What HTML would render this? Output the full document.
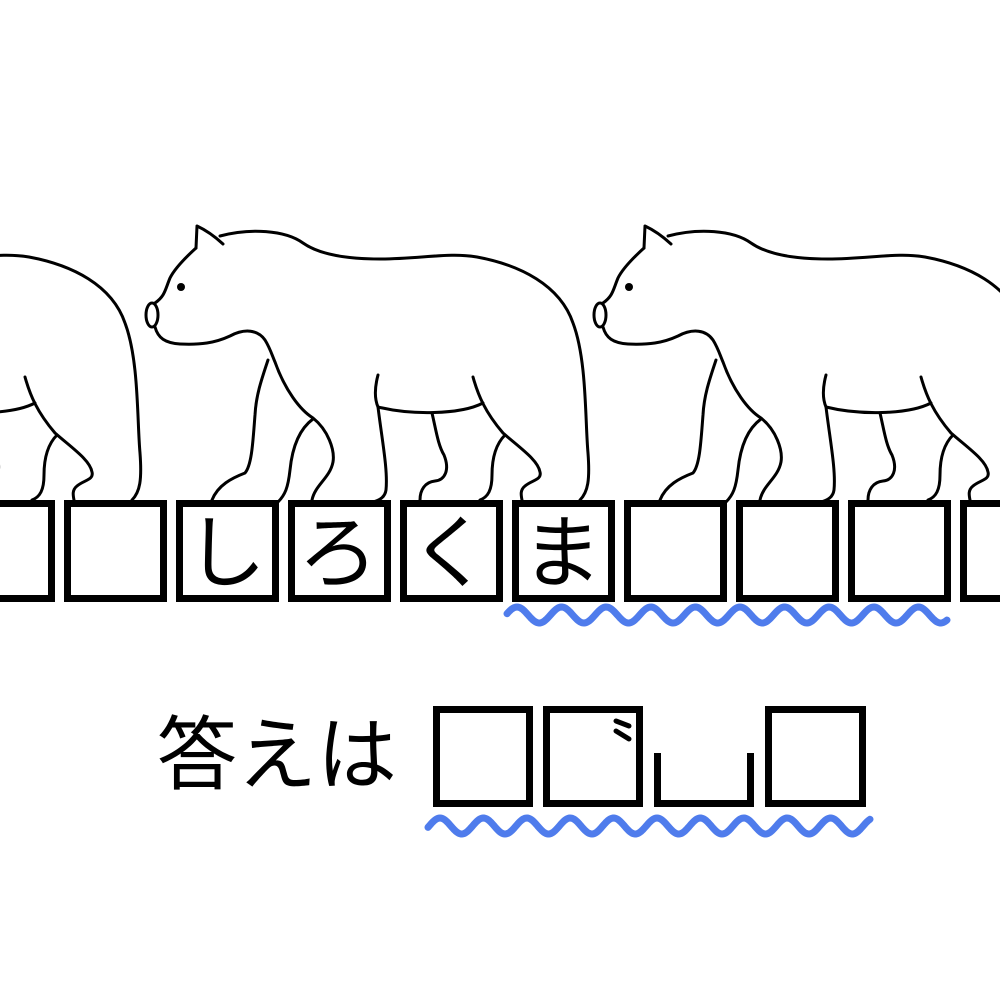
<!DOCTYPE html>
<html><head><meta charset="utf-8"><style>
html,body{margin:0;padding:0;background:#fff;}
svg{display:block;}
</style></head><body>
<svg width="1000" height="1000" viewBox="0 0 1000 1000" xmlns="http://www.w3.org/2000/svg">
<defs>
<g id="bear" fill="none" stroke="#000" stroke-width="3" stroke-linecap="round" stroke-linejoin="round">
<path d="M196,248 L197,226 Q210,232 223,244"/>
<path d="M220,236 C250,228 285,230 303,243 C320,255 350,259 380,259 C420,259 450,252 477,257 C520,265 560,285 573,323 C587,360 585,420 588,453 C590,480 588,492 580,500"/>
<path d="M196,248 C185,258 175,268 170,278 C165,290 165,296 155,303"/>
<ellipse cx="152" cy="315" rx="6" ry="12"/>
<path d="M155,327 C158,338 165,343 180,344 C200,345 215,343 230,336 C245,328 258,330 265,340 C270,348 272,355 275,362 C285,390 300,410 313,418 C328,430 335,450 333,462 C330,478 315,485 312,500"/>
<path d="M268,360 C262,378 256,395 255,415 C253,440 252,465 245,473 C232,478 218,485 212,500"/>
<path d="M313,419 C298,430 292,450 290,470 C288,488 285,495 278,502"/>
<path d="M378,375 C374,390 375,400 378,407 C382,440 388,470 386,490 C385,497 380,500 373,502"/>
<path d="M378,407 C410,415 460,415 483,403"/>
<path d="M432,413 C436,430 438,445 444,455 C450,470 445,480 435,481 C425,482 420,490 420,500"/>
<path d="M473,377 C478,395 485,412 503,433 C520,448 538,460 540,472 C542,480 532,480 525,486 C520,490 521,495 522,500"/>
<path d="M505,435 C495,445 492,460 492,475 C492,490 488,497 480,500"/>
<circle cx="181" cy="287" r="4" fill="#000" stroke="none"/>
</g>
</defs>
<g><use href="#bear" x="-448"/></g>
<g><use href="#bear"/></g>
<g><use href="#bear" x="448"/></g>

<g fill="#fff" stroke="#000" stroke-width="7">
<rect x="-44.5" y="503.5" width="96" height="95"/>
<rect x="67.5" y="503.5" width="96" height="95"/>
<rect x="179.5" y="503.5" width="96" height="95"/>
<rect x="291.5" y="503.5" width="96" height="95"/>
<rect x="403.5" y="503.5" width="96" height="95"/>
<rect x="515.5" y="503.5" width="96" height="95"/>
<rect x="627.5" y="503.5" width="96" height="95"/>
<rect x="739.5" y="503.5" width="96" height="95"/>
<rect x="851.5" y="503.5" width="96" height="95"/>
<rect x="963.5" y="503.5" width="96" height="95"/>
</g>
<g font-family="'Liberation Sans','Noto Sans CJK JP',sans-serif" font-size="80" text-anchor="middle" fill="#000">
<text x="226" y="581">し</text>
<text x="338" y="581">ろ</text>
<text x="450" y="581">く</text>
<text x="562" y="581">ま</text>
</g>
<path id="wave1" fill="none" stroke="#4f7cec" stroke-width="7" stroke-linecap="round"/>

<text x="157" y="783" font-family="'Liberation Sans','Noto Sans CJK JP',sans-serif" font-size="80" fill="#000">答えは</text>
<g fill="#fff" stroke="#000" stroke-width="7">
<rect x="436.5" y="709.5" width="93" height="94"/>
<rect x="546.5" y="709.5" width="93" height="94"/>
<path d="M657.5,753 V803.5 H750.5 V753" fill="none"/>
<rect x="768.5" y="709.5" width="94" height="94"/>
</g>
<g stroke="#000" stroke-width="5" stroke-linecap="round">
<line x1="616" y1="721" x2="629" y2="726"/>
<line x1="616" y1="731" x2="629" y2="739"/>
</g>
<path id="wave2" fill="none" stroke="#4f7cec" stroke-width="7" stroke-linecap="round"/>
</svg>
<script>
function wave(id,x0,x1,cy,amp,period,crestX){
  var d='';
  for(var x=x0;x<=x1;x+=1){
    var y=cy-amp*Math.cos(2*Math.PI*(x-crestX)/period);
    d+=(x===x0?'M':'L')+x+','+y.toFixed(2);
  }
  document.getElementById(id).setAttribute('d',d);
}
wave('wave1',507,947,615,8,44.6,517);
wave('wave2',428,870,826,8,43.4,440);
</script>
</body></html>
